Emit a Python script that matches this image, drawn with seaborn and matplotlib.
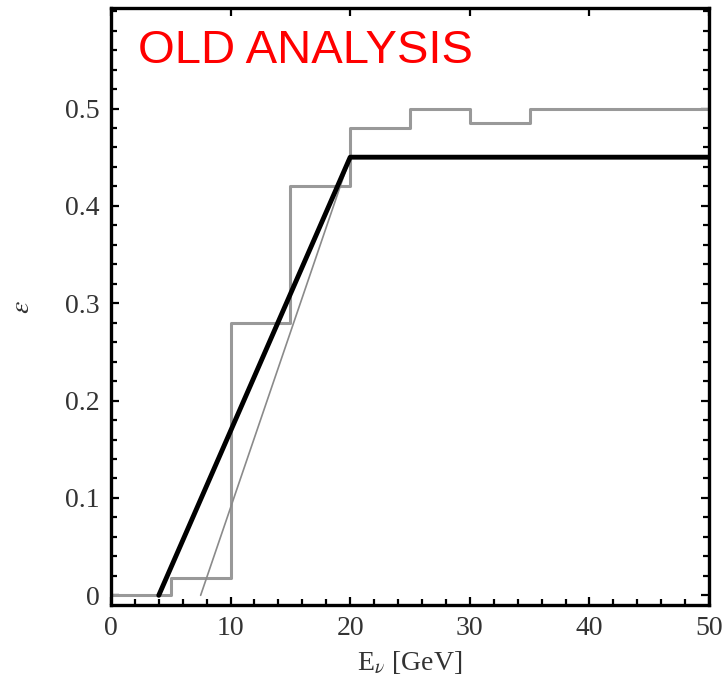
import numpy as np
import pandas as pd
import seaborn as sns
import matplotlib
matplotlib.use('Agg')
import matplotlib.pyplot as plt
from matplotlib.ticker import MultipleLocator

sns.set_style('ticks')
plt.rcParams['font.family'] = ['Liberation Serif', 'DejaVu Serif']
plt.rcParams['mathtext.fontset'] = 'stix'

# binned efficiency (gray histogram), bin edges in GeV
bin_edges = [0, 5, 10, 15, 20, 25, 30, 35, 50]
bin_eff = [0.0, 0.018, 0.28, 0.42, 0.48, 0.50, 0.485, 0.50]

# thick black fit
fit_E = [4, 20, 50]
fit_eff = [0.0, 0.45, 0.45]

# thin gray line
thin_E = [7.5, 20]
thin_eff = [0.0, 0.45]

hist = pd.DataFrame({'E': bin_edges, 'eff': bin_eff + [bin_eff[-1]]})
fit = pd.DataFrame({'E': fit_E, 'eff': fit_eff})
thin = pd.DataFrame({'E': thin_E, 'eff': thin_eff})

fig = plt.figure(figsize=(7.25, 6.86), dpi=100)
ax = fig.add_axes([0.153, 0.118, 0.825, 0.870])

sns.lineplot(x='E', y='eff', data=hist, drawstyle='steps-post', estimator=None,
             color='#999999', lw=2.2, ax=ax)
sns.lineplot(x='E', y='eff', data=thin, estimator=None, color='#8a8a8a', lw=1.2, ax=ax)
sns.lineplot(x='E', y='eff', data=fit, estimator=None, color='black', lw=3.5, ax=ax)

ax.set_xlim(0, 50)
ax.set_ylim(-0.01, 0.603)
ax.set_xticks([0, 10, 20, 30, 40, 50])
ax.set_yticks([0, 0.1, 0.2, 0.3, 0.4, 0.5])
ax.set_yticklabels(['0', '0.1', '0.2', '0.3', '0.4', '0.5'])
ax.xaxis.set_minor_locator(MultipleLocator(2))
ax.yaxis.set_minor_locator(MultipleLocator(0.02))
ax.tick_params(which='both', direction='in', top=True, right=True,
               width=1.6, color='black')
ax.tick_params(which='major', length=6, labelsize=20, labelcolor='#333333', pad=8)
ax.tick_params(which='minor', length=4, top=False)
for s in ax.spines.values():
    s.set_linewidth(2.4)
    s.set_color('black')

ax.set_xlabel(r'E$_\nu$ [GeV]', fontsize=20, color='#333333', labelpad=6)
ax.set_ylabel(r'$\epsilon$', fontsize=20, color='#333333', labelpad=22)

ax.text(0.045, 0.909, 'OLD ANALYSIS', transform=ax.transAxes, color='red',
        fontsize=34, family='Liberation Sans', va='baseline', ha='left')

fig.savefig('out.png', dpi=100)
